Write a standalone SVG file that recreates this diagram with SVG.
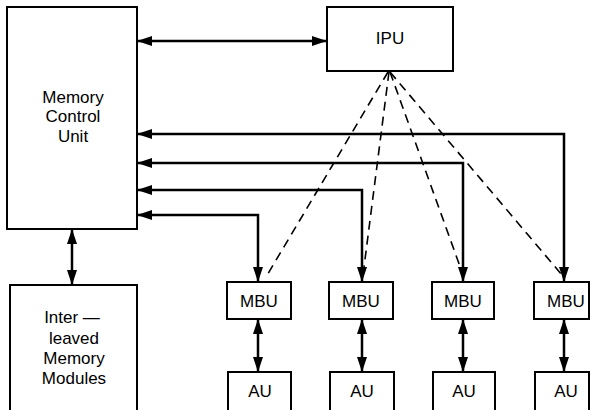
<svg xmlns="http://www.w3.org/2000/svg" width="592" height="410" viewBox="0 0 592 410">
  <style>
    .box { fill: #fff; stroke: #000; stroke-width: 2; }
    .lbl { font-family: "Liberation Sans", Arial, sans-serif; font-size: 17px; fill: #000; text-anchor: middle; }
    .bus { fill: none; stroke: #000; stroke-width: 2.5; marker-start: url(#head); marker-end: url(#head); }
    .dash { fill: none; stroke: #000; stroke-width: 1.6; stroke-dasharray: 9 6; }
  </style>
  <defs>
    <marker id="head" markerUnits="userSpaceOnUse" markerWidth="15" markerHeight="10" refX="15" refY="5" orient="auto-start-reverse">
      <path d="M0,0 L15,5 L0,10 z" fill="#000"/>
    </marker>
  </defs>
  <rect width="592" height="410" fill="#fff"/>

  <g id="connectors">
    <line class="bus" x1="137" y1="41" x2="327" y2="41"/>
    <path class="bus" d="M137,134 H564 V282"/>
    <path class="bus" d="M137,163 H463 V282"/>
    <path class="bus" d="M137,190 H362 V282"/>
    <path class="bus" d="M137,215 H258 V282"/>
    <line class="bus" x1="72" y1="229" x2="72" y2="285"/>
    <line class="bus" x1="258" y1="319" x2="258" y2="372"/>
    <line class="bus" x1="362" y1="319" x2="362" y2="372"/>
    <line class="bus" x1="463" y1="319" x2="463" y2="372"/>
    <line class="bus" x1="564" y1="319" x2="564" y2="372"/>
    <line class="dash" x1="388" y1="72" x2="266" y2="277"/>
    <line class="dash" x1="389" y1="72" x2="363" y2="275"/>
    <line class="dash" x1="390" y1="72" x2="462" y2="272"/>
    <line class="dash" x1="390" y1="72" x2="562" y2="275"/>
  </g>

  <g id="mcu">
    <rect class="box" x="7" y="7" width="130" height="222"/>
    <text class="lbl" x="73" y="103">Memory</text>
    <text class="lbl" x="73" y="122">Control</text>
    <text class="lbl" x="73" y="142">Unit</text>
  </g>
  <g id="ipu">
    <rect class="box" x="327" y="7" width="126" height="64"/>
    <text class="lbl" x="390" y="44">IPU</text>
  </g>
  <g id="memory-modules">
    <rect class="box" x="10" y="285" width="127" height="140"/>
    <text class="lbl" x="72" y="323">Inter —</text>
    <text class="lbl" x="74" y="344">leaved</text>
    <text class="lbl" x="74" y="364">Memory</text>
    <text class="lbl" x="74" y="384">Modules</text>
  </g>

  <g id="mbu1">
    <rect class="box" x="227" y="282" width="64" height="37"/>
    <text class="lbl" x="259" y="307">MBU</text>
  </g>
  <g id="au1">
    <rect class="box" x="228" y="372" width="63" height="50"/>
    <text class="lbl" x="260" y="397">AU</text>
  </g>
  <g id="mbu2">
    <rect class="box" x="329" y="282" width="64" height="37"/>
    <text class="lbl" x="361" y="307">MBU</text>
  </g>
  <g id="au2">
    <rect class="box" x="330" y="372" width="64" height="50"/>
    <text class="lbl" x="362" y="397">AU</text>
  </g>
  <g id="mbu3">
    <rect class="box" x="432" y="282" width="62" height="37"/>
    <text class="lbl" x="463" y="307">MBU</text>
  </g>
  <g id="au3">
    <rect class="box" x="433" y="372" width="62" height="50"/>
    <text class="lbl" x="464" y="397">AU</text>
  </g>
  <g id="mbu4">
    <rect class="box" x="534" y="282" width="55" height="37"/>
    <text class="lbl" x="566" y="307">MBU</text>
  </g>
  <g id="au4">
    <rect class="box" x="535" y="372" width="54" height="50"/>
    <text class="lbl" x="566" y="397">AU</text>
  </g>
</svg>
